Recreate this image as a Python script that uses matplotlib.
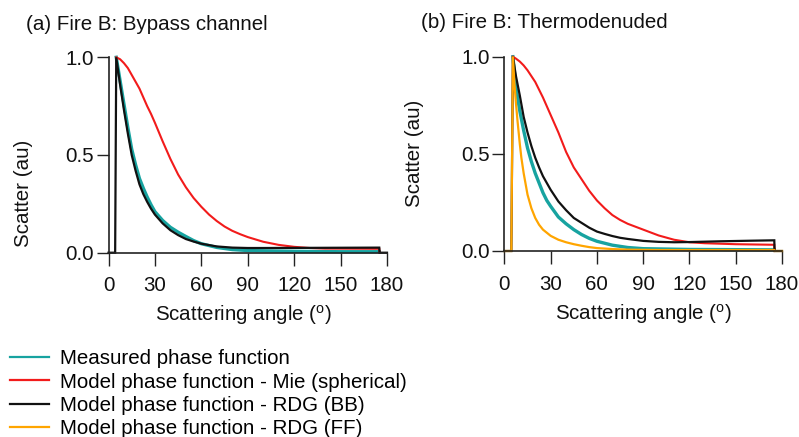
import matplotlib
matplotlib.use("Agg")
import matplotlib.pyplot as plt
from matplotlib.lines import Line2D

plt.rcParams['font.family'] = ['Liberation Sans', 'DejaVu Sans']
plt.rcParams['mathtext.fontset'] = 'custom'
plt.rcParams['mathtext.rm'] = 'Liberation Sans'
plt.rcParams['mathtext.it'] = 'Liberation Sans:italic'

FS = 14.8

# ---------------- data: panel (a) Fire B: Bypass channel ----------------
a_meas_x = [5, 7.5, 10, 12.5, 15, 17.5, 20, 22.5, 25, 27.5, 30, 35, 40, 45, 50, 55, 60, 70, 80, 90, 120, 150, 175]
a_meas_y = [1.0, 0.88, 0.76, 0.64, 0.53, 0.45, 0.38, 0.33, 0.285, 0.245, 0.21, 0.165, 0.13, 0.105, 0.083, 0.062, 0.046, 0.027, 0.016, 0.011, 0.007, 0.005, 0.005]

a_mie_x = [5, 7.5, 10, 12.5, 15, 17.5, 20, 22.5, 25, 27.5, 30, 35, 40, 45, 50, 55, 60, 65, 70, 75, 80, 85, 90, 100, 110, 120, 130, 140, 175, 175.2]
a_mie_y = [1.0, 0.99, 0.97, 0.945, 0.91, 0.875, 0.84, 0.795, 0.75, 0.71, 0.665, 0.57, 0.48, 0.40, 0.335, 0.28, 0.235, 0.195, 0.162, 0.134, 0.112, 0.095, 0.08, 0.056, 0.04, 0.03, 0.024, 0.021, 0.02, 0.0]

a_bb_x = [0, 4.3, 5, 7.5, 10, 12.5, 15, 17.5, 20, 22.5, 25, 27.5, 30, 35, 40, 45, 50, 55, 60, 70, 80, 90, 100, 175, 175.2, 180]
a_bb_y = [0, 0, 1.0, 0.86, 0.73, 0.61, 0.50, 0.42, 0.35, 0.30, 0.26, 0.225, 0.195, 0.15, 0.115, 0.09, 0.07, 0.057, 0.046, 0.032, 0.026, 0.024, 0.024, 0.026, 0.0, 0.0]

# ---------------- data: panel (b) Fire B: Thermodenuded ----------------
b_meas_x = [5.5, 7.5, 10, 12.5, 15, 17.5, 20, 22.5, 25, 27.5, 30, 35, 40, 45, 50, 55, 60, 70, 80, 90, 120, 175]
b_meas_y = [1.0, 0.84, 0.72, 0.62, 0.53, 0.46, 0.40, 0.35, 0.30, 0.26, 0.23, 0.175, 0.14, 0.11, 0.085, 0.065, 0.05, 0.03, 0.018, 0.012, 0.008, 0.006]

b_mie_x = [5.5, 7.5, 10, 12.5, 15, 17.5, 20, 22.5, 25, 27.5, 30, 35, 40, 45, 50, 55, 60, 65, 70, 75, 80, 85, 90, 100, 110, 120, 130, 150, 175, 175.2]
b_mie_y = [1.0, 0.99, 0.975, 0.955, 0.93, 0.90, 0.87, 0.83, 0.79, 0.745, 0.70, 0.61, 0.51, 0.43, 0.37, 0.31, 0.26, 0.22, 0.185, 0.16, 0.14, 0.125, 0.11, 0.08, 0.058, 0.045, 0.04, 0.035, 0.032, 0.0]

b_bb_x = [0, 4.5, 5.5, 7.5, 10, 12.5, 15, 17.5, 20, 22.5, 25, 27.5, 30, 35, 40, 45, 50, 55, 60, 65, 70, 75, 80, 90, 100, 110, 120, 140, 160, 175, 175.2, 180]
b_bb_y = [0, 0, 1.0, 0.90, 0.80, 0.69, 0.61, 0.54, 0.48, 0.43, 0.385, 0.35, 0.315, 0.255, 0.21, 0.17, 0.145, 0.12, 0.10, 0.088, 0.077, 0.068, 0.062, 0.052, 0.047, 0.045, 0.046, 0.05, 0.053, 0.055, 0.0, 0.0]

b_ff_x = [0, 4.5, 5.5, 6.5, 7.5, 8.5, 10, 11, 12.5, 15, 17.5, 20, 22.5, 25, 30, 35, 40, 45, 50, 55, 60, 70, 80, 100, 175, 175.2, 180]
b_ff_y = [0, 0, 1.0, 0.86, 0.76, 0.67, 0.55, 0.48, 0.40, 0.29, 0.22, 0.17, 0.135, 0.11, 0.078, 0.058, 0.045, 0.035, 0.027, 0.02, 0.015, 0.01, 0.007, 0.005, 0.005, 0.0, 0.0]

xticks = [0, 30, 60, 90, 120, 150, 180]
yticks = [0.0, 0.5, 1.0]
ytick_labels = ["0.0", "0.5", "1.0"]

labels = ["Measured phase function",
          "Model phase function - Mie (spherical)",
          "Model phase function - RDG (BB)",
          "Model phase function - RDG (FF)"]
colors = ["#17A3A0", "#F21B1B", "#111111", "#FFA500"]
titles = ["(a) Fire B: Bypass channel", "(b) Fire B: Thermodenuded"]

W, H = 799, 437
fig = plt.figure(figsize=(W / 100, H / 100), dpi=100)

ax_a = fig.add_axes([108.5 / W, (H - 252.7) / H, 278.5 / W, 195.4 / H])
ax_b = fig.add_axes([504.4 / W, (H - 251.0) / H, 277.6 / W, 194.3 / H])

def style(ax):
    ax.set_xlim(0, 180)
    ax.set_ylim(0, 1.0)
    for s in ["top", "right"]:
        ax.spines[s].set_visible(False)
    for s in ["left", "bottom"]:
        ax.spines[s].set_linewidth(1.2)
        ax.spines[s].set_color("#222222")
    ax.set_xticks(xticks)
    ax.set_yticks(yticks)
    ax.set_yticklabels(ytick_labels)
    ax.tick_params(axis="both", direction="out", length=9, width=1.0,
                   color="#222222", labelsize=FS, labelcolor="#111111")
    ax.tick_params(axis="y", pad=1.5)
    ax.tick_params(axis="x", pad=8)
    ax.set_xlabel(r"Scattering angle ($^{\mathrm{o}}$)", fontsize=FS, color="#111111")
    ax.set_ylabel("Scatter (au)", fontsize=FS, color="#111111")

style(ax_a)
style(ax_b)

kw = dict(clip_on=False, solid_joinstyle="miter")
ax_a.plot(a_meas_x, a_meas_y, color=colors[0], lw=2.4, **kw)
ax_a.plot(a_mie_x, a_mie_y, color=colors[1], lw=1.5, **kw)
ax_a.plot(a_bb_x, a_bb_y, color=colors[2], lw=1.6, **kw)

ax_b.plot(b_meas_x, b_meas_y, color=colors[0], lw=2.4, **kw)
ax_b.plot(b_mie_x, b_mie_y, color=colors[1], lw=1.5, **kw)
ax_b.plot(b_bb_x, b_bb_y, color=colors[2], lw=1.6, **kw)
ax_b.plot(b_ff_x, b_ff_y, color=colors[3], lw=1.6, **kw)

ax_a.xaxis.set_label_coords(0.483, -0.255)
ax_b.xaxis.set_label_coords(0.501, -0.265)
ax_a.yaxis.set_label_coords(-0.27, 0.305)
ax_b.yaxis.set_label_coords(-0.29, 0.50)

fig.text(26 / W, 1 - 25 / H, titles[0], fontsize=FS, ha="left", va="center", color="#111111")
fig.text(421 / W, 1 - 23 / H, titles[1], fontsize=FS, ha="left", va="center", color="#111111")

handles = [Line2D([], [], color=c, lw=1.6) for c in colors]
fig.legend(handles, labels, loc="upper left", bbox_to_anchor=(10 / W, 1 - 349.5 / H),
           frameon=False, fontsize=FS, borderpad=0, borderaxespad=0,
           handlelength=1.9, handletextpad=0.55, labelspacing=0.2)

fig.savefig("out.png", dpi=100)
